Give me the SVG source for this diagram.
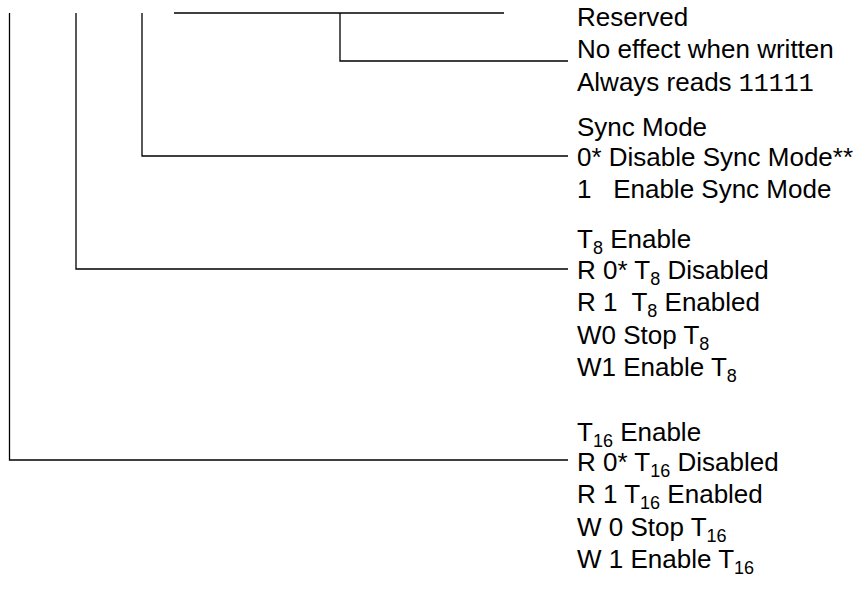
<svg xmlns="http://www.w3.org/2000/svg" width="860" height="589" viewBox="0 0 860 589">
<style>
  .t { font-family: "Liberation Sans", Arial, sans-serif; font-size: 26px; fill: #000; }
  .sub { font-size: 18px; }
  .mono { font-family: "Liberation Mono", "Courier New", monospace; font-size: 25px; }
  .c { fill: none; stroke: #000; stroke-width: 1.3; }
</style>
<g id="connectors">
  <line class="c" x1="174" y1="13" x2="504" y2="13"/>
  <polyline class="c" points="340,13 340,61 568,61"/>
  <polyline class="c" points="142,13 142,156 568,156"/>
  <polyline class="c" points="76,13 76,269 568,269"/>
  <polyline class="c" points="9.5,13 9.5,460 568,460"/>
</g>
<g id="reserved">
  <text class="t" x="577" y="26">Reserved</text>
  <text class="t" x="577" y="58">No effect when written</text>
  <text class="t" x="577" y="91">Always reads <tspan class="mono">11111</tspan></text>
</g>
<g id="sync-mode">
  <text class="t" x="577" y="136">Sync Mode</text>
  <text class="t" x="577" y="166">0* Disable Sync Mode**</text>
  <text class="t" x="577" y="198" xml:space="preserve">1   Enable Sync Mode</text>
</g>
<g id="t8-enable">
  <text class="t" x="577" y="248">T<tspan class="sub" dy="6">8</tspan><tspan dy="-6"> Enable</tspan></text>
  <text class="t" x="577" y="279">R 0* T<tspan class="sub" dy="6">8</tspan><tspan dy="-6"> Disabled</tspan></text>
  <text class="t" x="577" y="311" xml:space="preserve">R 1  T<tspan class="sub" dy="6">8</tspan><tspan dy="-6"> Enabled</tspan></text>
  <text class="t" x="577" y="344">W0 Stop T<tspan class="sub" dy="6">8</tspan></text>
  <text class="t" x="577" y="376">W1 Enable T<tspan class="sub" dy="6">8</tspan></text>
</g>
<g id="t16-enable">
  <text class="t" x="577" y="441">T<tspan class="sub" dy="6">16</tspan><tspan dy="-6"> Enable</tspan></text>
  <text class="t" x="577" y="471">R 0* T<tspan class="sub" dy="6">16</tspan><tspan dy="-6"> Disabled</tspan></text>
  <text class="t" x="577" y="503">R 1 T<tspan class="sub" dy="6">16</tspan><tspan dy="-6"> Enabled</tspan></text>
  <text class="t" x="577" y="536">W 0 Stop T<tspan class="sub" dy="6">16</tspan></text>
  <text class="t" x="577" y="568">W 1 Enable T<tspan class="sub" dy="6">16</tspan></text>
</g>
</svg>
